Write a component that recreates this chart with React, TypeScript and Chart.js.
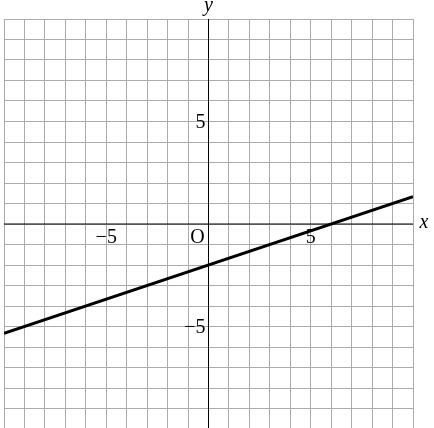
import { useEffect, useRef } from 'react';
import { Chart, registerables, Plugin } from 'chart.js';

Chart.register(...registerables);

// line: y = x/3 - 2, from edge to edge
const lineX = [-10, 10];
const lineY = [-5.33, 1.33];

const xTickLabels = [
  { value: -5, text: '\u22125' },
  { value: 5, text: '5' },
];
const yTickLabels = [
  { value: 5, text: '5' },
  { value: -5, text: '\u22125' },
];

const FONT = '"Liberation Serif", "DejaVu Serif", serif';

const axesPlugin: Plugin<'scatter'> = {
  id: 'axes',
  beforeDatasetsDraw(chart) {
    const { ctx, chartArea, scales } = chart;
    const x0 = scales.x.getPixelForValue(0);
    const y0 = scales.y.getPixelForValue(0);
    ctx.save();
    ctx.strokeStyle = '#000';
    ctx.lineWidth = 1;
    ctx.beginPath();
    ctx.moveTo(chartArea.left, y0);
    ctx.lineTo(chartArea.right, y0);
    ctx.moveTo(x0, chartArea.top);
    ctx.lineTo(x0, chartArea.bottom);
    ctx.stroke();
    ctx.restore();
  },
  afterDraw(chart) {
    const { ctx, chartArea, scales } = chart;
    const x0 = scales.x.getPixelForValue(0);
    const y0 = scales.y.getPixelForValue(0);
    ctx.save();
    ctx.fillStyle = '#000';
    ctx.font = `20px ${FONT}`;
    ctx.textBaseline = 'middle';

    ctx.textAlign = 'center';
    xTickLabels.forEach(t => {
      ctx.fillText(t.text, scales.x.getPixelForValue(t.value), y0 + 14);
    });
    ctx.fillText('O', x0 - 11, y0 + 14);

    ctx.textAlign = 'right';
    yTickLabels.forEach(t => {
      ctx.fillText(t.text, x0 - 3, scales.y.getPixelForValue(t.value) + 1);
    });

    ctx.font = `italic 20px ${FONT}`;
    ctx.textAlign = 'center';
    ctx.fillText('y', x0, chartArea.top - 13);
    ctx.fillText('x', chartArea.right + 11, y0 - 1);
    ctx.restore();
  },
};

export default function App() {
  const canvasRef = useRef<HTMLCanvasElement>(null);
  const chartRef = useRef<Chart | null>(null);

  useEffect(() => {
    if (!canvasRef.current) return;
    const ctx = canvasRef.current.getContext('2d');
    if (!ctx) return;

    if (chartRef.current) chartRef.current.destroy();

    const gridColor = '#ababab';

    chartRef.current = new Chart(ctx, {
      type: 'scatter',
      data: {
        datasets: [
          {
            data: lineX.map((x, i) => ({ x, y: lineY[i] })),
            showLine: true,
            borderColor: '#000',
            borderWidth: 3,
            pointRadius: 0,
            fill: false,
          },
        ],
      },
      options: {
        responsive: false,
        animation: false,
        devicePixelRatio: 1,
        layout: { padding: { left: 4, right: 21, top: 19, bottom: 3 } },
        plugins: {
          legend: { display: false },
          tooltip: { enabled: false },
        },
        scales: {
          x: {
            type: 'linear',
            min: -10,
            max: 10,
            ticks: { display: false, stepSize: 1 },
            grid: { color: gridColor, lineWidth: 1, drawTicks: false },
            border: { display: false },
          },
          y: {
            type: 'linear',
            min: -10,
            max: 10,
            ticks: { display: false, stepSize: 1 },
            grid: { color: gridColor, lineWidth: 1, drawTicks: false },
            border: { display: false },
          },
        },
      },
      plugins: [axesPlugin],
    });

    return () => {
      if (chartRef.current) {
        chartRef.current.destroy();
        chartRef.current = null;
      }
    };
  }, []);

  return (
    <div
      style={{
        position: 'fixed',
        left: 0,
        top: 0,
        width: 434,
        height: 428,
        overflow: 'hidden',
        background: '#fff',
      }}
    >
      <canvas ref={canvasRef} width={434} height={432} style={{ display: 'block' }} />
    </div>
  );
}
